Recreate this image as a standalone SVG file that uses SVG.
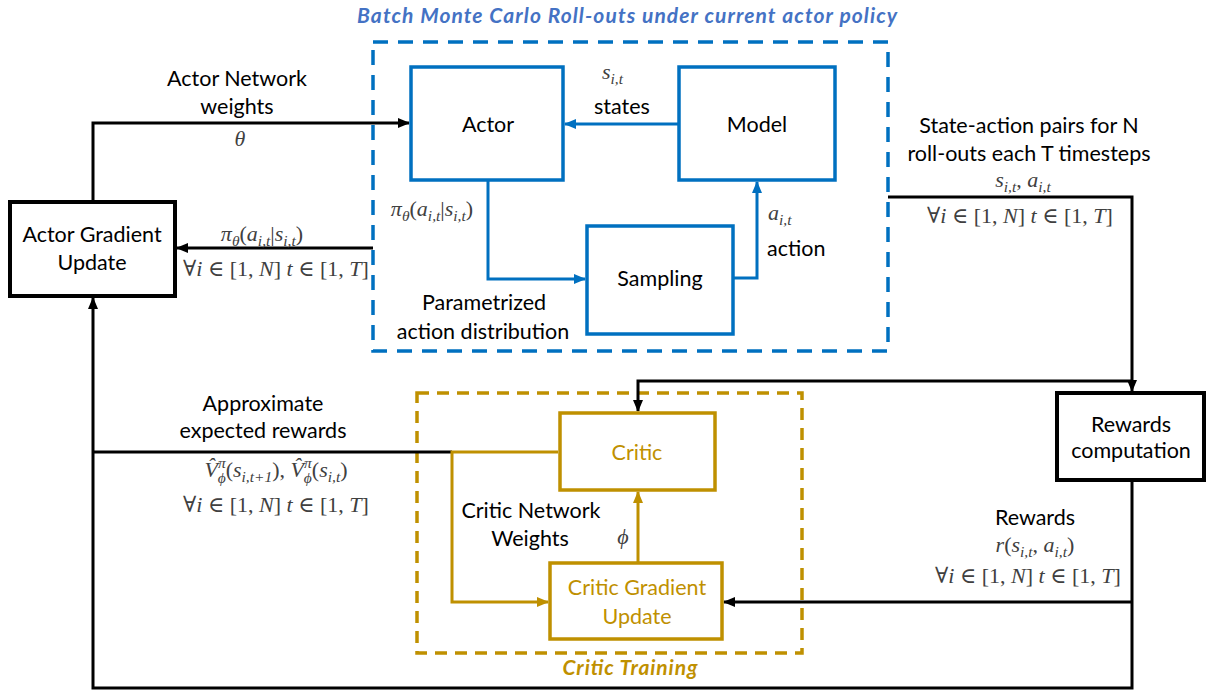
<svg xmlns="http://www.w3.org/2000/svg" width="1206" height="690" viewBox="0 0 1206 690">
  <defs>
    <style>
      .lbl { font-family: Lato, "Open Sans", sans-serif; font-size: 21.5px; fill: #000; }
      .mid { text-anchor: middle; }
      .m { font-family: "Liberation Serif", "DejaVu Serif", serif; font-size: 22px; fill: #404040; }
      .it { font-style: italic; }
      .sb { font-size: 15.5px; font-style: italic; }
      .boxK { fill: #fff; stroke: #000; stroke-width: 4; }
      .boxB { fill: #fff; stroke: #0070C0; stroke-width: 3.5; }
      .boxG { fill: #fff; stroke: #BF9000; stroke-width: 3.5; }
      .grpB { fill: none; stroke: #0070C0; stroke-width: 3.5; stroke-dasharray: 15 10; }
      .grpG { fill: none; stroke: #BF9000; stroke-width: 3.5; stroke-dasharray: 12 8; }
      .cK { fill: none; stroke: #000; stroke-width: 3; }
      .cB { fill: none; stroke: #0070C0; stroke-width: 3; }
      .cG { fill: none; stroke: #BF9000; stroke-width: 3; }
      .gold { fill: #BF9000; }
      .ttl { font-family: Lato, "Open Sans", sans-serif; font-size: 21px; font-weight: bold; font-style: italic; }
    </style>
    <marker id="aK" markerUnits="userSpaceOnUse" markerWidth="12" markerHeight="10" refX="11" refY="5" orient="auto">
      <path d="M0,0 L12,5 L0,10 z" fill="#000"/>
    </marker>
    <marker id="aB" markerUnits="userSpaceOnUse" markerWidth="12" markerHeight="10" refX="11" refY="5" orient="auto">
      <path d="M0,0 L12,5 L0,10 z" fill="#0070C0"/>
    </marker>
    <marker id="aG" markerUnits="userSpaceOnUse" markerWidth="12" markerHeight="10" refX="11" refY="5" orient="auto">
      <path d="M0,0 L12,5 L0,10 z" fill="#BF9000"/>
    </marker>
  </defs>

  <rect width="1206" height="690" fill="#fff"/>

  <!-- group frames -->
  <g id="rollouts">
    <rect class="grpB" x="373" y="42" width="515" height="309"/>
    <text class="ttl mid" x="627" y="23" fill="#4472C4" textLength="540">Batch Monte Carlo Roll-outs under current actor policy</text>
  </g>
  <g id="critic-training">
    <rect class="grpG" x="417" y="393" width="385" height="260"/>
    <text class="ttl mid gold" x="630" y="675" textLength="135">Critic Training</text>
  </g>

  <!-- connectors -->
  <g id="connectors">
    <path class="cK" d="M93,202 V123 H409" marker-end="url(#aK)"/>
    <path class="cK" d="M373,248 H177" marker-end="url(#aK)"/>
    <path class="cK" d="M888,197 H1132 V391" marker-end="url(#aK)"/>
    <path class="cK" d="M1132,381 H638 V411" marker-end="url(#aK)"/>
    <path class="cK" d="M1132,480 V688 H93 V298" marker-end="url(#aK)"/>
    <path class="cK" d="M1132,602 H724" marker-end="url(#aK)"/>
    <path class="cK" d="M93,452 H452"/>
    <path class="cG" d="M558,452 H452 V602 H548" marker-end="url(#aG)"/>
    <path class="cG" d="M638,563 V492" marker-end="url(#aG)"/>
    <path class="cB" d="M679,124 H565" marker-end="url(#aB)"/>
    <path class="cB" d="M488,180 V279 H585" marker-end="url(#aB)"/>
    <path class="cB" d="M733,278 H757 V182" marker-end="url(#aB)"/>
  </g>

  <!-- nodes -->
  <g id="actor-gradient-update">
    <rect class="boxK" x="10" y="202" width="165" height="94"/>
    <text class="lbl mid" x="92" y="242">Actor Gradient</text>
    <text class="lbl mid" x="92" y="270">Update</text>
  </g>
  <g id="actor">
    <rect class="boxB" x="411" y="67" width="152" height="113"/>
    <text class="lbl mid" x="488" y="132">Actor</text>
  </g>
  <g id="model">
    <rect class="boxB" x="679" y="67" width="156" height="113"/>
    <text class="lbl mid" x="757" y="132">Model</text>
  </g>
  <g id="sampling">
    <rect class="boxB" x="587" y="226" width="146" height="108"/>
    <text class="lbl mid" x="660" y="286">Sampling</text>
  </g>
  <g id="rewards-computation">
    <rect class="boxK" x="1057" y="393" width="147" height="87"/>
    <text class="lbl mid" x="1131" y="432">Rewards</text>
    <text class="lbl mid" x="1131" y="458">computation</text>
  </g>
  <g id="critic">
    <rect class="boxG" x="560" y="413" width="155" height="77"/>
    <text class="lbl mid gold" x="637" y="460">Critic</text>
  </g>
  <g id="critic-gradient-update">
    <rect class="boxG" x="550" y="563" width="172" height="76" stroke-width="4"/>
    <text class="lbl mid gold" x="637" y="595">Critic Gradient</text>
    <text class="lbl mid gold" x="637" y="624">Update</text>
  </g>

  <!-- edge labels -->
  <g id="labels">
    <text class="lbl mid" x="237" y="86">Actor Network</text>
    <text class="lbl mid" x="237" y="114">weights</text>
    <text class="m it mid" x="240" y="146">θ</text>

    <text class="m mid" x="262" y="241"><tspan class="it">π</tspan><tspan class="sb" dy="5">θ</tspan><tspan dy="-5">(</tspan><tspan class="it">a</tspan><tspan class="sb" dy="5">i,t</tspan><tspan dy="-5">|</tspan><tspan class="it">s</tspan><tspan class="sb" dy="5">i,t</tspan><tspan dy="-5">)</tspan></text>
    <text class="m mid" x="276" y="276">∀<tspan class="it">i</tspan> ∈ [1, <tspan class="it">N</tspan>] <tspan class="it">t</tspan> ∈ [1, <tspan class="it">T</tspan>]</text>

    <text class="m mid" x="432" y="216"><tspan class="it">π</tspan><tspan class="sb" dy="5">θ</tspan><tspan dy="-5">(</tspan><tspan class="it">a</tspan><tspan class="sb" dy="5">i,t</tspan><tspan dy="-5">|</tspan><tspan class="it">s</tspan><tspan class="sb" dy="5">i,t</tspan><tspan dy="-5">)</tspan></text>
    <text class="lbl mid" x="484" y="310">Parametrized</text>
    <text class="lbl mid" x="483" y="339">action distribution</text>

    <text class="m" x="602" y="79"><tspan class="it">s</tspan><tspan class="sb" dy="5">i,t</tspan></text>
    <text class="lbl mid" x="622" y="114">states</text>

    <text class="m" x="768" y="220"><tspan class="it">a</tspan><tspan class="sb" dy="5">i,t</tspan></text>
    <text class="lbl" x="767" y="256">action</text>

    <text class="lbl mid" x="1029" y="133">State-action pairs for N</text>
    <text class="lbl mid" x="1029" y="161">roll-outs each T timesteps</text>
    <text class="m mid" x="1023" y="187"><tspan class="it">s</tspan><tspan class="sb" dy="5">i,t</tspan><tspan dy="-5">, </tspan><tspan class="it">a</tspan><tspan class="sb" dy="5">i,t</tspan></text>
    <text class="m mid" x="1020" y="223">∀<tspan class="it">i</tspan> ∈ [1, <tspan class="it">N</tspan>] <tspan class="it">t</tspan> ∈ [1, <tspan class="it">T</tspan>]</text>

    <text class="lbl mid" x="263" y="411">Approximate</text>
    <text class="lbl mid" x="263" y="438">expected rewards</text>
    <text class="m mid" x="276" y="477"><tspan class="it">V̂</tspan><tspan class="sb" dy="-9">π</tspan><tspan class="sb" dx="-8" dy="15">ϕ</tspan><tspan dy="-6">(</tspan><tspan class="it">s</tspan><tspan class="sb" dy="5">i,t+1</tspan><tspan dy="-5">), </tspan><tspan class="it">V̂</tspan><tspan class="sb" dy="-9">π</tspan><tspan class="sb" dx="-8" dy="15">ϕ</tspan><tspan dy="-6">(</tspan><tspan class="it">s</tspan><tspan class="sb" dy="5">i,t</tspan><tspan dy="-5">)</tspan></text>
    <text class="m mid" x="276" y="512">∀<tspan class="it">i</tspan> ∈ [1, <tspan class="it">N</tspan>] <tspan class="it">t</tspan> ∈ [1, <tspan class="it">T</tspan>]</text>

    <text class="lbl mid" x="531" y="518">Critic Network</text>
    <text class="lbl mid" x="530" y="546">Weights</text>
    <text class="m it mid" x="623" y="544">ϕ</text>

    <text class="lbl mid" x="1035" y="525">Rewards</text>
    <text class="m mid" x="1035" y="552"><tspan class="it">r</tspan>(<tspan class="it">s</tspan><tspan class="sb" dy="5">i,t</tspan><tspan dy="-5">, </tspan><tspan class="it">a</tspan><tspan class="sb" dy="5">i,t</tspan><tspan dy="-5">)</tspan></text>
    <text class="m mid" x="1028" y="583">∀<tspan class="it">i</tspan> ∈ [1, <tspan class="it">N</tspan>] <tspan class="it">t</tspan> ∈ [1, <tspan class="it">T</tspan>]</text>
  </g>
</svg>
